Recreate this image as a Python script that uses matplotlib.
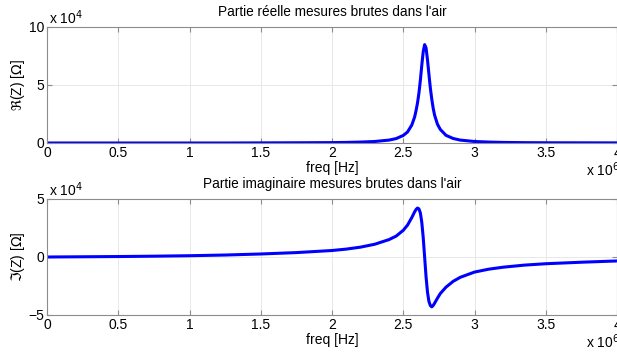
import numpy as np
import matplotlib
matplotlib.use("Agg")
import matplotlib.pyplot as plt

# frequency in MHz (x 10^6 Hz), impedance in units of 10^4 Ohm
freq = [0.0, 0.25, 0.5, 0.75, 1.0, 1.25, 1.5, 1.75, 2.0, 2.1, 2.2, 2.3, 2.4, 2.45,
        2.5, 2.53, 2.56, 2.58, 2.59, 2.6, 2.61, 2.62, 2.63, 2.64, 2.65, 2.66, 2.67,
        2.68, 2.69, 2.70, 2.71, 2.72, 2.74, 2.76, 2.8, 2.85, 2.9, 3.0, 3.1, 3.2,
        3.35, 3.5, 3.75, 4.0]

z_real = [0.0, 0.0, 0.0, 0.0, 0.0, 0.0, 0.01, 0.02, 0.035, 0.05, 0.08, 0.13, 0.25, 0.38,
          0.65, 0.95, 1.55, 2.25, 2.80, 3.45, 4.30, 5.40, 6.69, 7.86, 8.48, 8.20, 7.18,
          5.95, 4.75, 3.80, 3.00, 2.40, 1.62, 1.17, 0.66, 0.39, 0.25, 0.13, 0.08, 0.05,
          0.03, 0.02, 0.015, 0.01]

z_imag = [0.0, 0.02, 0.04, 0.07, 0.11, 0.17, 0.26, 0.38, 0.56, 0.68, 0.85, 1.10, 1.50, 1.80,
          2.30, 2.75, 3.40, 3.90, 4.10, 4.22, 4.15, 3.80, 3.00, 1.70, 0.0, -1.70, -3.02,
          -3.82, -4.18, -4.30, -4.18, -3.98, -3.55, -3.15, -2.60, -2.10, -1.75, -1.30, -1.05, -0.88,
          -0.70, -0.58, -0.45, -0.34]

x_ticks = [0, 0.5, 1, 1.5, 2, 2.5, 3, 3.5, 4]
x_labels = ['0', '0.5', '1', '1.5', '2', '2.5', '3', '3.5', '4']

plt.rcParams['font.family'] = ['Liberation Sans', 'DejaVu Sans']
plt.rcParams['mathtext.fontset'] = 'dejavusans'

fig = plt.figure(figsize=(6.17, 3.54), dpi=100)
W, H = 617.0, 354.0

def make_axes(top, bottom):
    ax = fig.add_axes([47 / W, 1 - bottom / H, 570 / W, (bottom - top) / H])
    for s in ax.spines.values():
        s.set_color('#8c8c8c')
        s.set_linewidth(0.8)
    ax.tick_params(direction='in', length=3.5, color='#8c8c8c', labelsize=10,
                   pad=2, top=True, right=True)
    ax.grid(True, color='#e8e8e8', linewidth=0.7)
    ax.set_axisbelow(True)
    ax.set_xlim(0, 4)
    ax.set_xticks(x_ticks)
    ax.set_xticklabels(x_labels)
    return ax

ax1 = make_axes(27, 143)
ax1.plot(freq, z_real, color='#0000ff', linewidth=2.2)
ax1.set_ylim(0, 10)
ax1.set_yticks([0, 5, 10])
ax1.set_title("Partie réelle mesures brutes dans l'air", fontsize=9.8, pad=8)
ax1.set_xlabel('freq [Hz]', fontsize=10, labelpad=1)
ax1.set_ylabel(r'$\Re$(Z) [$\Omega$]', fontsize=10, labelpad=1)
fig.text(49 / W, 1 - 24 / H, r'x 10$^{4}$', fontsize=10, ha='left', va='baseline')
fig.text(586 / W, 1 - 176 / H, r'x 10$^{6}$', fontsize=10, ha='left', va='baseline')

ax2 = make_axes(199, 315)
ax2.plot(freq, z_imag, color='#0000ff', linewidth=2.2)
ax2.set_ylim(-5, 5)
ax2.set_yticks([-5, 0, 5])
ax2.set_title("Partie imaginaire mesures brutes dans l'air", fontsize=9.8, pad=8)
ax2.set_xlabel('freq [Hz]', fontsize=10, labelpad=1)
ax2.set_ylabel(r'$\Im$(Z) [$\Omega$]', fontsize=10, labelpad=1)
fig.text(49 / W, 1 - 196 / H, r'x 10$^{4}$', fontsize=10, ha='left', va='baseline')
fig.text(586 / W, 1 - 348 / H, r'x 10$^{6}$', fontsize=10, ha='left', va='baseline')

fig.savefig('out.png', dpi=100)
